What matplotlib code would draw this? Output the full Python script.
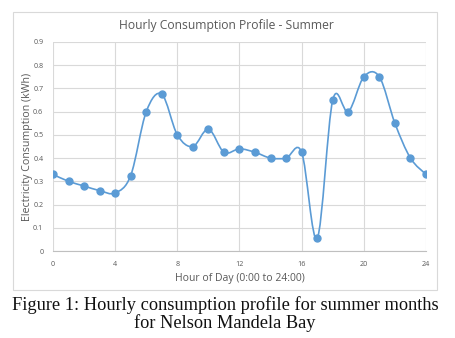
import numpy as np
import matplotlib
matplotlib.use('Agg')
import matplotlib.pyplot as plt
from matplotlib.path import Path
from matplotlib.patches import PathPatch, Rectangle

hours = [0, 1, 2, 3, 4, 5, 6, 7, 8, 9, 10, 11, 12,
         13, 14, 15, 16, 17, 18, 19, 20, 21, 22, 23, 24]
consumption = [0.33, 0.30, 0.28, 0.26, 0.25, 0.325, 0.60, 0.675, 0.50, 0.45, 0.525, 0.425, 0.44,
               0.425, 0.40, 0.40, 0.425, 0.055, 0.65, 0.60, 0.75, 0.75, 0.55, 0.40, 0.33]
xticks = [0, 4, 8, 12, 16, 20, 24]
yticks = [0, 0.1, 0.2, 0.3, 0.4, 0.5, 0.6, 0.7, 0.8, 0.9]
ytick_labels = ['0', '0.1', '0.2', '0.3', '0.4', '0.5', '0.6', '0.7', '0.8', '0.9']

blue = '#5b9bd5'
grey_txt = '#595959'
grid_c = '#d9d9d9'

plt.rcParams['font.family'] = ['Open Sans', 'DejaVu Sans']

fig = plt.figure(figsize=(4.56, 3.38), dpi=100)
W, H = 456, 338
ax = fig.add_axes([53 / W, 1 - 251 / H, (426 - 53) / W, (251 - 42) / H])

# smoothed line like Excel (bezier through the points)
pts = np.column_stack([hours, consumption]).astype(float)
verts = [tuple(pts[0])]
codes = [Path.MOVETO]
n = len(pts)
for i in range(n - 1):
    p0 = pts[i - 1] if i > 0 else pts[i]
    p1 = pts[i]
    p2 = pts[i + 1]
    p3 = pts[i + 2] if i + 2 < n else pts[i + 1]
    c1 = p1 + (p2 - p0) / 6.0
    c2 = p2 - (p3 - p1) / 6.0
    verts += [tuple(c1), tuple(c2), tuple(p2)]
    codes += [Path.CURVE4, Path.CURVE4, Path.CURVE4]
ax.add_patch(PathPatch(Path(verts, codes), facecolor='none', edgecolor=blue, lw=1.2, zorder=3))
ax.plot(hours, consumption, linestyle='none', marker='o', ms=5, color=blue, zorder=4)

ax.set_xlim(0, 24)
ax.set_ylim(0, 0.9)
ax.set_xticks(xticks)
ax.set_yticks(yticks)
ax.set_yticklabels(ytick_labels)
ax.grid(True, color=grid_c, lw=0.8)
ax.set_axisbelow(True)
for s in ['top', 'right', 'left']:
    ax.spines[s].set_visible(False)
ax.spines['bottom'].set_color('#bfbfbf')
ax.spines['bottom'].set_linewidth(0.8)
ax.tick_params(length=0, labelsize=5.2, labelcolor=grey_txt, pad=7)

ax.set_xlabel('Hour of Day (0:00 to 24:00)', fontsize=7.5, color=grey_txt, labelpad=4)
ax.set_ylabel('Electricity Consumption (kWh)', fontsize=7.7, color=grey_txt, labelpad=0)
fig.text(226 / W, 1 - 25 / H, 'Hourly Consumption Profile - Summer', fontsize=8.7,
         color=grey_txt, ha='center', va='center')

# chart frame
fig.add_artist(Rectangle((13 / W, 1 - 290 / H), (437 - 13) / W, (290 - 12) / H,
                         transform=fig.transFigure, fill=False, edgecolor=grid_c, lw=0.8))

fig.text(225 / W, 1 - 305 / H, 'Figure 1: Hourly consumption profile for summer months',
         fontsize=13.2, family='Liberation Serif', color='#111111', ha='center', va='center')
fig.text(225 / W, 1 - 323 / H, 'for Nelson Mandela Bay',
         fontsize=13.2, family='Liberation Serif', color='#111111', ha='center', va='center')

fig.savefig('out.png', dpi=100)
